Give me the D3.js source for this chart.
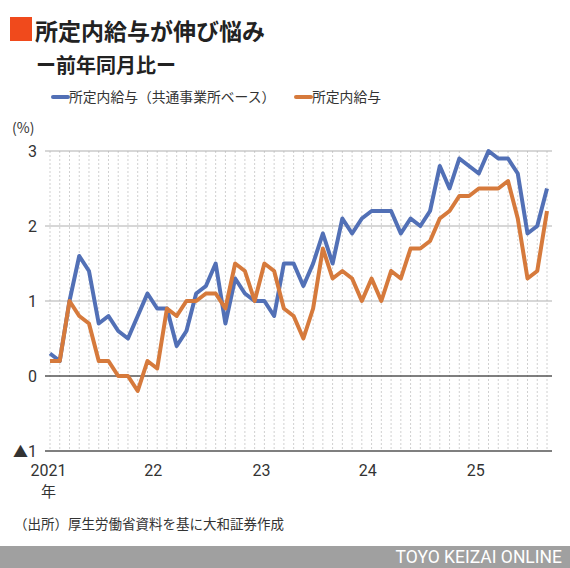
<!DOCTYPE html>
<html>
<head>
<meta charset="utf-8">
<script src="https://cdn.jsdelivr.net/npm/d3@7"></script>
<style>
  body { margin: 0; background: #fff; }
  svg { display: block; font-family: "Noto Sans CJK JP", "Noto Sans", sans-serif; }
</style>
</head>
<body>
<svg id="chart"></svg>
<script>
// monthly, Jan 2021 .. Apr 2025 (year-on-year %)
const commonBase = [
  0.3, 0.2, 1.0, 1.6, 1.4, 0.7, 0.8, 0.6, 0.5, 0.8, 1.1, 0.9,
  0.9, 0.4, 0.6, 1.1, 1.2, 1.5, 0.7, 1.3, 1.1, 1.0, 1.0, 0.8,
  1.5, 1.5, 1.2, 1.5, 1.9, 1.5, 2.1, 1.9, 2.1, 2.2, 2.2, 2.2,
  1.9, 2.1, 2.0, 2.2, 2.8, 2.5, 2.9, 2.8, 2.7, 3.0, 2.9, 2.9,
  2.7, 1.9, 2.0, 2.5
];
const scheduled = [
  0.2, 0.2, 1.0, 0.8, 0.7, 0.2, 0.2, 0.0, 0.0, -0.2, 0.2, 0.1,
  0.9, 0.8, 1.0, 1.0, 1.1, 1.1, 0.9, 1.5, 1.4, 1.0, 1.5, 1.4,
  0.9, 0.8, 0.5, 0.9, 1.7, 1.3, 1.4, 1.3, 1.0, 1.3, 1.0, 1.4,
  1.3, 1.7, 1.7, 1.8, 2.1, 2.2, 2.4, 2.4, 2.5, 2.5, 2.5, 2.6,
  2.1, 1.3, 1.4, 2.2
];
const seriesNames = ["所定内給与（共通事業所ベース）", "所定内給与"];
const seriesColors = ["#5270b6", "#d67a3c"];
const yTicks = [-1, 0, 1, 2, 3];
const yTickLabels = ["1", "0", "1", "2", "3"];
const yearLabels = ["2021", "22", "23", "24", "25"];
const yearLabelPos = [-0.15, 10.6, 21.7, 32.6, 43.7]; // in month index units

const width = 570, height = 568;
const svg = d3.select("#chart").attr("width", width).attr("height", height);

const x = d3.scaleLinear().domain([0, commonBase.length - 1]).range([50, 547]);
const y = d3.scaleLinear().domain([-1, 3]).range([451, 151]);

// title block
svg.append("rect").attr("x", 10).attr("y", 17).attr("width", 22).attr("height", 24).attr("fill", "#f04a1c");
svg.append("text").attr("x", 35).attr("y", 40).attr("font-size", 23).attr("font-weight", "bold")
  .attr("fill", "#222").text("所定内給与が伸び悩み");
svg.append("text").attr("x", 36).attr("y", 73).attr("font-size", 20).attr("font-weight", "bold")
  .attr("fill", "#222").text("ー前年同月比ー");

// legend
const legendX = [53, 296];
seriesNames.forEach((name, i) => {
  svg.append("line")
    .attr("x1", legendX[i]).attr("x2", legendX[i] + 15)
    .attr("y1", 97).attr("y2", 97)
    .attr("stroke", seriesColors[i]).attr("stroke-width", 4).attr("stroke-linecap", "round");
  svg.append("text").attr("x", legendX[i] + 16).attr("y", 102)
    .attr("font-size", 13.8).attr("fill", "#333").text(name);
});

svg.append("text").attr("x", 12).attr("y", 133).attr("font-size", 14).attr("fill", "#333").text("(%)");

// vertical dotted month gridlines
svg.append("g")
  .selectAll("line")
  .data(d3.range(commonBase.length))
  .enter()
  .append("line")
  .attr("x1", (d) => x(d)).attr("x2", (d) => x(d))
  .attr("y1", y(3)).attr("y2", y(-1))
  .attr("stroke", "#d0d0d0").attr("stroke-width", 1).attr("stroke-dasharray", "2,2");

// horizontal gridlines
svg.append("g")
  .selectAll("line")
  .data(yTicks)
  .enter()
  .append("line")
  .attr("x1", 45).attr("x2", 552)
  .attr("y1", (d) => y(d)).attr("y2", (d) => y(d))
  .attr("stroke", (d) => (d <= 0 ? "#555" : "#b0b0b0"))
  .attr("stroke-width", (d) => (d <= 0 ? 1.5 : 1.2));

// y tick labels (negative shown with ▲)
const yLabel = svg.append("g")
  .selectAll("text")
  .data(yTicks)
  .enter()
  .append("text")
  .attr("x", 37)
  .attr("y", (d) => y(d) + 6)
  .attr("text-anchor", "end")
  .attr("font-size", 16)
  .attr("fill", "#333")
  .attr("font-family", "Roboto, sans-serif");
yLabel.filter((d) => d < 0)
  .append("tspan")
  .attr("font-family", "'Noto Sans CJK JP', sans-serif")
  .attr("font-size", 15)
  .text("▲");
yLabel.append("tspan").text((d, i) => yTickLabels[i]);

// x year labels
svg.append("g")
  .selectAll("text")
  .data(yearLabels)
  .enter()
  .append("text")
  .attr("x", (d, i) => x(yearLabelPos[i]))
  .attr("y", 476)
  .attr("text-anchor", "middle")
  .attr("font-size", 16)
  .attr("fill", "#333")
  .attr("font-family", "Roboto, sans-serif")
  .text((d) => d);
svg.append("text").attr("x", x(yearLabelPos[0])).attr("y", 497).attr("text-anchor", "middle")
  .attr("font-size", 15).attr("fill", "#333").text("年");

// lines (orange drawn above blue, as in reference)
const line = d3.line().x((d, i) => x(i)).y((d) => y(d));
[commonBase, scheduled].forEach((s, i) => {
  svg.append("path")
    .datum(s)
    .attr("d", line)
    .attr("fill", "none")
    .attr("stroke", seriesColors[i])
    .attr("stroke-width", 4)
    .attr("stroke-linejoin", "round");
});

// source
svg.append("text").attr("x", 14).attr("y", 529).attr("font-size", 13.5).attr("fill", "#333")
  .text("（出所）厚生労働省資料を基に大和証券作成");

// footer bar
svg.append("rect").attr("x", 0).attr("y", 546).attr("width", width).attr("height", 22).attr("fill", "#a0a0a0");
svg.append("text").attr("x", 562).attr("y", 563).attr("text-anchor", "end")
  .attr("font-size", 17.5).attr("fill", "#fff").attr("font-family", "Roboto, sans-serif")
  .text("TOYO KEIZAI ONLINE");
</script>
</body>
</html>
